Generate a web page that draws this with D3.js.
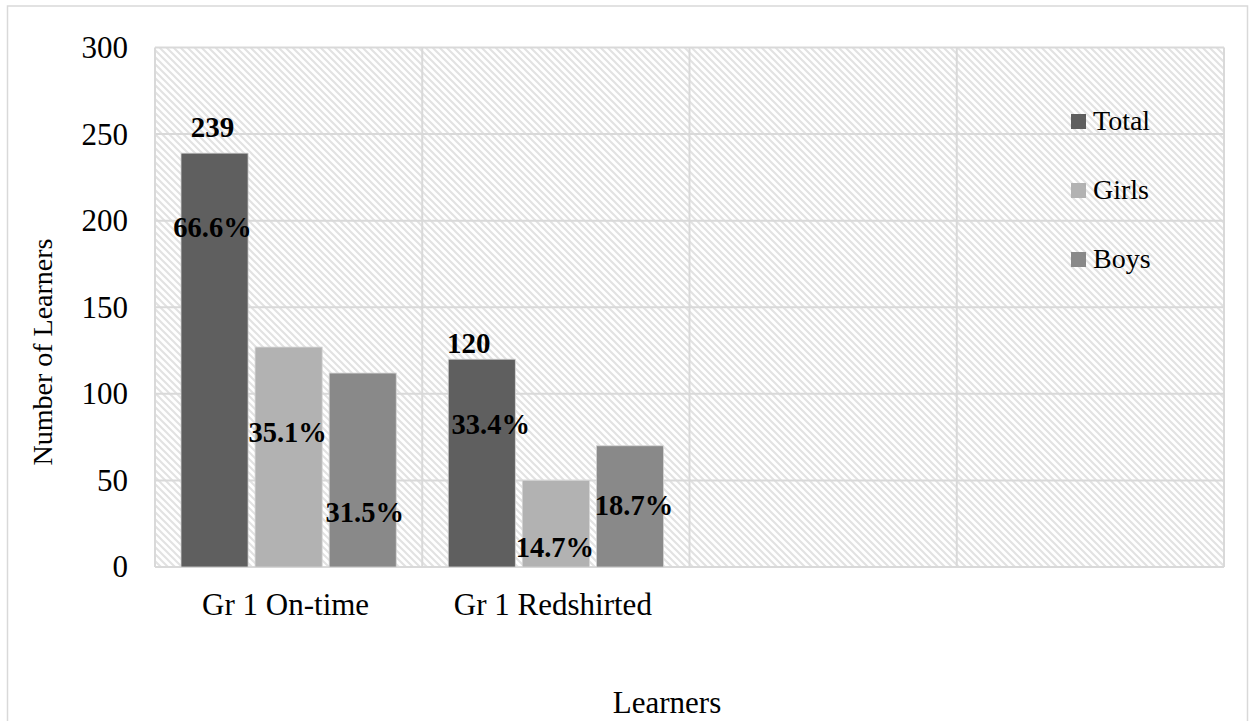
<!DOCTYPE html>
<html>
<head>
<meta charset="utf-8">
<script src="https://cdn.jsdelivr.net/npm/d3@7"></script>
<style>
  html, body { margin: 0; padding: 0; background: #ffffff; }
  svg { display: block; }
  svg text { font-family: "Liberation Serif", "Times New Roman", serif; }
</style>
</head>
<body>
<svg id="chart" width="1255" height="721"></svg>
<script>
// ---- data ----
const categories = ["Gr 1 On-time", "Gr 1 Redshirted", "", ""];
const seriesNames = ["Total", "Girls", "Boys"];
const totalValues = [239, 120];
const girlsValues = [127, 50];
const boysValues  = [112, 70];
const percentLabels = [
  ["66.6%", "35.1%", "31.5%"],
  ["33.4%", "14.7%", "18.7%"]
];
const yTicks = [0, 50, 100, 150, 200, 250, 300];

// ---- layout ----
const plot = { left: 155, right: 1224, top: 47.5, bottom: 567 };
const colors = { Total: "#5f5f5f", Girls: "#b2b2b2", Boys: "#898989" };
// axis level (in learners) where each percentage label's baseline sits
const pctLabelAt = [[190.7, 72.3, 26.2], [76.6, 5.6, 30.0]];
const pctLabelDx = [[-2, -1, 2], [9, -1, 4]];
const countLabelOffset = [{ dx: -2, dy: -16 }, { dx: -13, dy: -6 }];
const serif = "'Liberation Serif', 'Times New Roman', serif";

const svg = d3.select("#chart");

// hatched plot background
const defs = svg.append("defs");
const pat = defs.append("pattern")
  .attr("id", "hatch")
  .attr("patternUnits", "userSpaceOnUse")
  .attr("width", 7).attr("height", 7);
pat.append("rect").attr("width", 7).attr("height", 7).attr("fill", "#ffffff");
pat.append("path")
  .attr("d", "M0,0 L7,7 M-1,6 L1,8 M6,-1 L8,1")
  .attr("stroke", "#e2e2e2").attr("stroke-width", 2);

// outer chart frame
svg.append("rect")
  .attr("x", 7.5).attr("y", 6).attr("width", 1240).attr("height", 730)
  .attr("fill", "#ffffff").attr("stroke", "#d9d9d9").attr("stroke-width", 1.5);

const y = d3.scaleLinear().domain([0, 300]).range([plot.bottom, plot.top]);
const x0 = d3.scaleBand().domain(d3.range(categories.length))
  .range([plot.left, plot.right]).paddingInner(0).paddingOuter(0);
const x1 = d3.scaleBand().domain(seriesNames)
  .range([0, x0.bandwidth()]).paddingInner(0.0946).paddingOuter(0.351);

svg.append("rect")
  .attr("x", plot.left).attr("y", plot.top)
  .attr("width", plot.right - plot.left).attr("height", plot.bottom - plot.top)
  .attr("fill", "url(#hatch)");

// gridlines
const grid = svg.append("g").attr("stroke", "#d9d9d9").attr("stroke-width", 2);
grid.selectAll("line.h").data(yTicks).join("line").attr("class", "h")
  .attr("x1", plot.left).attr("x2", plot.right)
  .attr("y1", d => y(d)).attr("y2", d => y(d));
grid.selectAll("line.v").data(d3.range(categories.length + 1)).join("line").attr("class", "v")
  .attr("y1", plot.top).attr("y2", plot.bottom)
  .attr("x1", i => i < categories.length ? x0(i) : plot.right)
  .attr("x2", i => i < categories.length ? x0(i) : plot.right);

// y axis labels
const yAxis = svg.append("g")
  .attr("transform", `translate(${plot.left - 27},0)`)
  .call(d3.axisLeft(y).tickValues(yTicks).tickSize(0).tickPadding(0))
  .attr("font-family", serif);
yAxis.select(".domain").remove();
yAxis.selectAll("text")
  .attr("font-size", 31).attr("fill", "#000");

// category labels
const xAxis = svg.append("g")
  .attr("transform", `translate(-3,${plot.bottom})`)
  .call(d3.axisBottom(x0).tickFormat(i => categories[i]).tickSize(0).tickPadding(0))
  .attr("font-family", serif);
xAxis.select(".domain").remove();
xAxis.selectAll("text")
  .attr("font-size", 31).attr("fill", "#000")
  .attr("dy", null).attr("y", 48);

// bars
const rows = [totalValues, girlsValues, boysValues];
const barData = [];
totalValues.forEach((_, ci) => {
  seriesNames.forEach((s, si) => barData.push({ ci, si, s, v: rows[si][ci] }));
});

svg.append("g").selectAll("rect").data(barData).join("rect")
  .attr("x", d => x0(d.ci) + x1(d.s))
  .attr("y", d => y(d.v))
  .attr("width", x1.bandwidth())
  .attr("height", d => y(0) - y(d.v))
  .attr("fill", d => colors[d.s])
  .attr("stroke", "#d4d4d4").attr("stroke-width", 0.8);

// count labels above Total bars
svg.append("g").selectAll("text").data(totalValues).join("text")
  .attr("x", (v, i) => x0(i) + x1("Total") + x1.bandwidth() / 2 + countLabelOffset[i].dx)
  .attr("y", (v, i) => y(v) + countLabelOffset[i].dy)
  .attr("text-anchor", "middle")
  .attr("font-size", 29).attr("font-weight", "bold").attr("fill", "#000")
  .text(v => v);

// percentage labels
const pctData = [];
percentLabels.forEach((row, ci) => row.forEach((t, si) => pctData.push({ ci, si, t })));
svg.append("g").selectAll("text").data(pctData).join("text")
  .attr("x", d => x0(d.ci) + x1(seriesNames[d.si]) + x1.bandwidth() / 2 + pctLabelDx[d.ci][d.si])
  .attr("y", d => y(pctLabelAt[d.ci][d.si]))
  .attr("text-anchor", "middle")
  .attr("font-size", 28.5).attr("font-weight", "bold").attr("fill", "#000")
  .text(d => d.t);

// legend
const legend = svg.append("g").attr("transform", "translate(1071,114)");
const li = legend.selectAll("g").data(seriesNames).join("g")
  .attr("transform", (d, i) => `translate(0,${i * 69})`);
li.append("rect").attr("width", 15).attr("height", 15).attr("fill", d => colors[d]);
li.append("text").attr("x", 22).attr("y", 16)
  .attr("font-size", 28).attr("fill", "#000").text(d => d);

// axis titles
svg.append("text")
  .attr("transform", "translate(52,352) rotate(-90)")
  .attr("text-anchor", "middle")
  .attr("font-size", 28).attr("fill", "#000")
  .text("Number of Learners");

svg.append("text")
  .attr("x", 667).attr("y", 713)
  .attr("text-anchor", "middle")
  .attr("font-size", 31).attr("fill", "#000")
  .text("Learners");
</script>
</body>
</html>
